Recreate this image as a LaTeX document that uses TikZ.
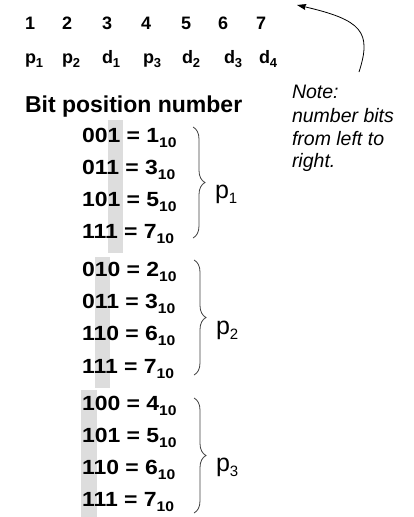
\documentclass[tikz,border=0pt]{standalone}
\usepackage{fontspec}
\setmainfont{Liberation Sans}
\newfontfamily\rowfam[FakeStretch=1.12]{Liberation Sans}
\usetikzlibrary{arrows.meta,decorations.pathreplacing}
\newcommand\mysub[3]{\raisebox{-#2pt}{\fontsize{#1}{#1}\selectfont #3}}
\definecolor{barGray}{RGB}{221,221,221}
\begin{document}
\begin{tikzpicture}[x=1pt,y=-1pt,
  every node/.style={inner sep=0pt,outer sep=0pt},
  toprow/.style={anchor=base west,font=\bfseries\fontsize{18}{18}\selectfont},
  headst/.style={anchor=base west,font=\bfseries\fontsize{23}{23}\selectfont},
  rowst/.style={anchor=base west,font=\rowfam\bfseries\fontsize{20.5}{20.5}\selectfont},
  plab/.style={anchor=base west,font=\fontsize{25}{25}\selectfont},
  notest/.style={anchor=base west,font=\itshape\fontsize{19.5}{19.5}\selectfont},
  bracest/.style={decorate,decoration={brace,amplitude=12pt},line width=0.8pt,draw=black!75},
  bar/.style={fill=barGray}]
\useasboundingbox (0,0) rectangle (414,517);
% gray bars
\fill[bar] (108,120) rectangle (123,253);
\fill[bar] (95,257) rectangle (110,388);
\fill[bar] (81,390) rectangle (97,517);
% bit numbers
\node[toprow] (n1) at (25,29) {1};
\node[toprow] (n2) at (62,29) {2};
\node[toprow] (n3) at (102,29) {3};
\node[toprow] (n4) at (141,29) {4};
\node[toprow] (n5) at (181,29) {5};
\node[toprow] (n6) at (218,29) {6};
\node[toprow] (n7) at (256,29) {7};
% bit names
\node[toprow] (l1) at (25,63) {p\mysub{13}{4.5}{1}};
\node[toprow] (l2) at (62,63) {p\mysub{13}{4.5}{2}};
\node[toprow] (l3) at (102,63) {d\mysub{13}{4.5}{1}};
\node[toprow] (l4) at (143,63) {p\mysub{13}{4.5}{3}};
\node[toprow] (l5) at (182,63) {d\mysub{13}{4.5}{2}};
\node[toprow] (l6) at (224,63) {d\mysub{13}{4.5}{3}};
\node[toprow] (l7) at (259,63) {d\mysub{13}{4.5}{4}};
% heading
\node[headst] (head) at (25,112) {Bit position number};
% block 1
\node[rowst] (r11) at (82,142) {001 = 1\mysub{14}{5.5}{10}};
\node[rowst] (r12) at (82,174) {011 = 3\mysub{14}{5.5}{10}};
\node[rowst] (r13) at (82,206) {101 = 5\mysub{14}{5.5}{10}};
\node[rowst] (r14) at (82,238) {111 = 7\mysub{14}{5.5}{10}};
% block 2
\node[rowst] (r21) at (82,276) {010 = 2\mysub{14}{5.5}{10}};
\node[rowst] (r22) at (82,308) {011 = 3\mysub{14}{5.5}{10}};
\node[rowst] (r23) at (82,340) {110 = 6\mysub{14}{5.5}{10}};
\node[rowst] (r24) at (82,373) {111 = 7\mysub{14}{5.5}{10}};
% block 3
\node[rowst] (r31) at (82,410) {100 = 4\mysub{14}{5.5}{10}};
\node[rowst] (r32) at (82,442) {101 = 5\mysub{14}{5.5}{10}};
\node[rowst] (r33) at (82,474) {110 = 6\mysub{14}{5.5}{10}};
\node[rowst] (r34) at (82,506) {111 = 7\mysub{14}{5.5}{10}};
% braces
\coordinate (b1t) at (193,127); \coordinate (b1b) at (193,238);
\coordinate (b2t) at (194,260); \coordinate (b2b) at (194,375);
\coordinate (b3t) at (194,398); \coordinate (b3b) at (194,513);
\draw[bracest] (b1t) -- (b1b);
\draw[bracest] (b2t) -- (b2b);
\draw[bracest] (b3t) -- (b3b);
% parity labels
\node[plab] (P1) at (215,198) {p\mysub{15}{5}{1}};
\node[plab] (P2) at (216,334) {p\mysub{15}{5}{2}};
\node[plab] (P3) at (216,471) {p\mysub{15}{5}{3}};
% note
\node[notest] (nt1) at (292,98) {Note:};
\node[notest] (nt2) at (292,122) {number bits};
\node[notest] (nt3) at (292,145) {from left to};
\node[notest] (nt4) at (292,167) {right.};
% arrow
\coordinate (as) at (359,72);
\coordinate (ae) at (297,5);
\draw[-{Stealth[length=9pt,width=6pt,inset=1pt]},line width=0.8pt] (as) .. controls (372,32) and (362,20) .. (ae);
\end{tikzpicture}
\end{document}
